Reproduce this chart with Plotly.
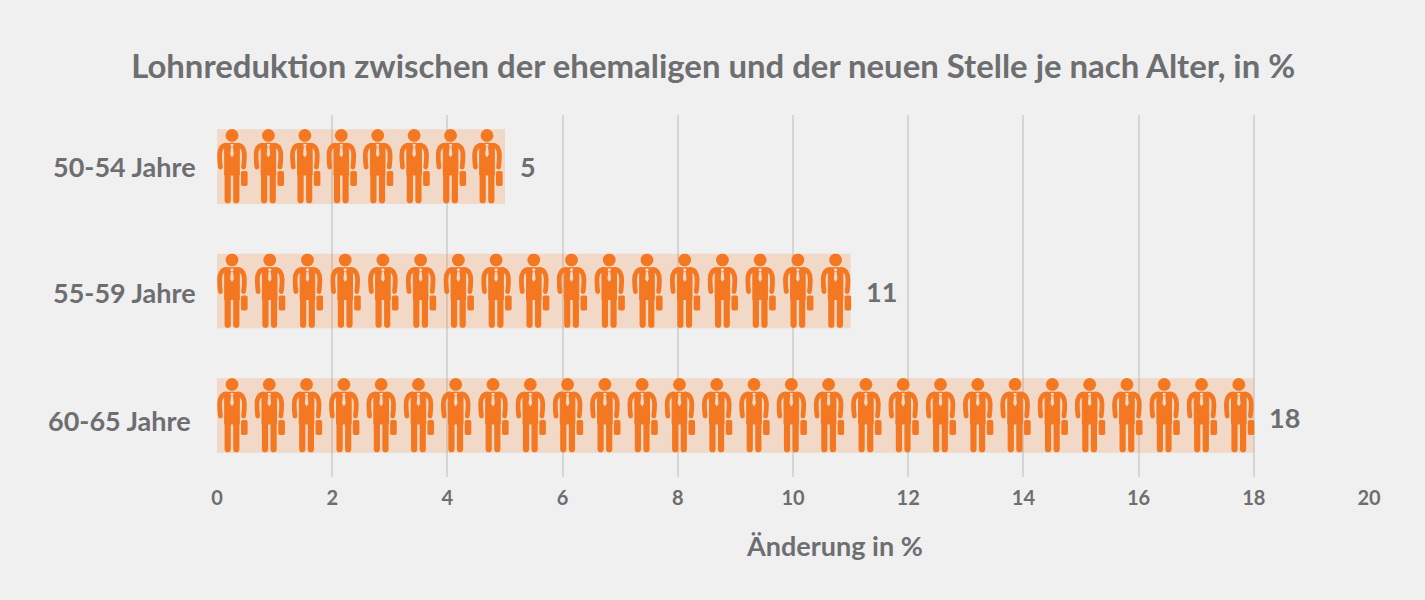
import base64
import plotly.graph_objects as go

groups = ["50-54 Jahre", "55-59 Jahre", "60-65 Jahre"]
values = [5, 11, 18]
icon_counts = [8, 17, 28]
x_ticks = [0, 2, 4, 6, 8, 10, 12, 14, 16, 18, 20]

GREY = "#6d6e70"
ORANGE = "#f47721"
FONT = "Lato"

# plot area in pixels, needed to convert icon size to data units
PLOT_L, PLOT_R, PLOT_T, PLOT_B = 217, 1369, 115, 477
PX_PER_X = (PLOT_R - PLOT_L) / 20
ROW_PX = 124.5

ICON_W, ICON_H = 31, 75
icon_svg = f"""<svg xmlns="http://www.w3.org/2000/svg" viewBox="0 0 {ICON_W} {ICON_H}" preserveAspectRatio="none">
<circle cx="15" cy="6.4" r="6.4" fill="{ORANGE}"/>
<path d="M7.7 15 Q15 13 22.3 15 V46 H7.7 Z" fill="{ORANGE}" stroke="{ORANGE}" stroke-width="1" stroke-linejoin="round"/>
<path d="M9.5 16 C5 16 2.6 20 2.6 26 Q2.6 32 3.4 38" fill="none" stroke="{ORANGE}" stroke-width="4.8" stroke-linecap="round"/>
<path d="M20.5 16 C25 16 27.4 20 27.4 26 Q27.4 32 26.6 38" fill="none" stroke="{ORANGE}" stroke-width="4.8" stroke-linecap="round"/>
<path d="M10.7 44 V71.2 M19.3 44 V71.2" fill="none" stroke="{ORANGE}" stroke-width="6.2" stroke-linecap="round"/>
<rect x="24" y="42" width="6.6" height="15" rx="1.8" fill="{ORANGE}"/>
<path d="M13.6 15 H16.4 V17.4 H13.6 Z M14 18 H16 L16.8 25.5 L15 28.5 L13.2 25.5 Z" fill="#f6d9c6"/>
</svg>"""
icon_uri = "data:image/svg+xml;base64," + base64.b64encode(icon_svg.encode()).decode()

fig = go.Figure()
fig.add_trace(go.Bar(
    x=values, y=groups, orientation="h", width=0.6,
    marker=dict(color="rgba(244,119,33,0.2)", line=dict(width=0)),
    hoverinfo="skip",
))

images = []
annotations = []
right_pad = [18, 15, 15]
label_xshift = [-19.5, -19.5, -24.5]
label_yshift = [0, -1, -5]
value_yshift = [0, 0, -2]
for i, group in enumerate(groups):
    first = 15 / PX_PER_X
    last = values[i] - right_pad[i] / PX_PER_X
    step = (last - first) / (icon_counts[i] - 1)
    for k in range(icon_counts[i]):
        images.append(dict(
            source=icon_uri, xref="x", yref="y",
            x=first + k * step - 15 / PX_PER_X, y=group,
            sizex=ICON_W / PX_PER_X, sizey=ICON_H / ROW_PX,
            xanchor="left", yanchor="middle", sizing="stretch", layer="above",
        ))
    annotations.append(dict(
        x=0, y=group, xref="x", yref="y", text=group, showarrow=False,
        xanchor="right", xshift=label_xshift[i], yshift=label_yshift[i],
        font=dict(family=FONT, size=27, color=GREY, weight=700),
    ))
    annotations.append(dict(
        x=values[i], y=group, xref="x", yref="y", text=str(values[i]), showarrow=False,
        xanchor="left", xshift=13, yshift=value_yshift[i],
        font=dict(family=FONT, size=27, color=GREY, weight=700),
    ))

# axis title sits right of the plot centre in the original, so it is an annotation
annotations.append(dict(
    x=(834.5 - PLOT_L) / (PLOT_R - PLOT_L), y=(PLOT_B - 545) / (PLOT_B - PLOT_T),
    xref="paper", yref="paper", text="Änderung in %",
    showarrow=False, xanchor="center", yanchor="middle",
    font=dict(family=FONT, size=27, color=GREY, weight=700),
))

fig.update_layout(
    width=1425, height=600,
    paper_bgcolor="#f0f0f0", plot_bgcolor="#f0f0f0",
    margin=dict(l=PLOT_L, r=1425 - PLOT_R, t=PLOT_T, b=600 - PLOT_B, pad=0),
    showlegend=False,
    images=images, annotations=annotations,
    title=dict(
        text="Lohnreduktion zwischen der ehemaligen und der neuen Stelle je nach Alter, in %",
        x=0.5005, xref="container", xanchor="center", y=0.89, yanchor="middle",
        font=dict(family=FONT, size=32.9, color=GREY, weight=700),
    ),
    xaxis=dict(
        range=[0, 20], tickvals=x_ticks, ticks="", showline=False, zeroline=False,
        showgrid=True, gridcolor="#d5d5d5", gridwidth=2, ticklabelstandoff=7,
        tickfont=dict(family=FONT, size=20, color=GREY, weight=700),
    ),
    yaxis=dict(
        type="category", categoryorder="array", categoryarray=groups,
        range=[2.494, -0.414], showticklabels=False, ticks="",
        showgrid=False, zeroline=False, showline=False,
    ),
)

fig.write_html(
    "out.html",
    config={"displayModeBar": False},
    post_script="document.body.style.margin='0';document.body.style.background='#f0f0f0';",
)
